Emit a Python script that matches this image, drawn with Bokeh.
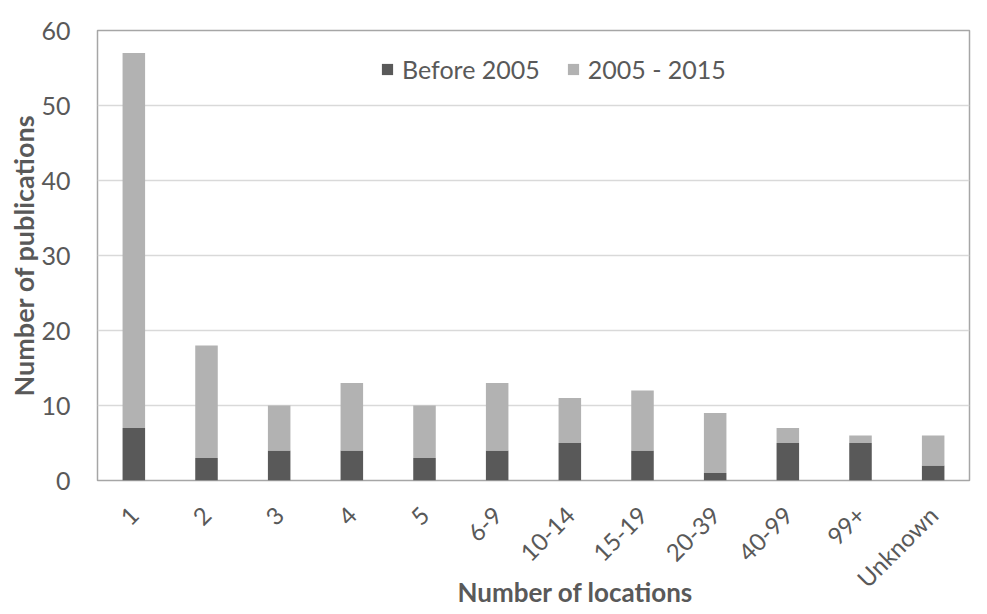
from bokeh.plotting import figure
from bokeh.models import Range1d, FactorRange, Legend, LegendItem, Title
from bokeh.embed import file_html
from bokeh.resources import INLINE
import math

categories = ["1", "2", "3", "4", "5", "6-9", "10-14", "15-19", "20-39", "40-99", "99+", "Unknown"]
before_2005 = [7, 3, 4, 4, 3, 4, 5, 4, 1, 5, 5, 2]
y2005_2015 = [50, 15, 6, 9, 7, 9, 6, 8, 8, 2, 1, 4]
series_names = ["Before 2005", "2005 - 2015"]
y_ticks = [0, 10, 20, 30, 40, 50, 60]
x_title = "Number of locations"
y_title = "Number of publications"

FONT = "Lato"
TXT = "#595959"

p = figure(width=971, height=606, output_backend="svg", toolbar_location=None,
           x_range=FactorRange(*categories, range_padding=0), y_range=Range1d(0, 60),
           min_border_left=97, min_border_right=2, min_border_top=30, min_border_bottom=124)

data = dict(cat=categories, b=before_2005, a=y2005_2015)
r = p.vbar_stack(["b", "a"], x="cat", width=0.31, source=data,
                 color=["#595959", "#b2b2b2"], line_color=None)

p.outline_line_color = "#a6a6a6"
p.outline_line_width = 1.5
p.xgrid.grid_line_color = None
p.ygrid.grid_line_color = "#d9d9d9"
p.ygrid.grid_line_width = 1.5
p.yaxis.ticker = y_ticks

for ax in (p.xaxis[0], p.yaxis[0]):
    ax.axis_line_color = None
    ax.major_tick_line_color = None
    ax.minor_tick_line_color = None
    ax.major_tick_out = 0
    ax.major_tick_in = 0
    ax.minor_tick_out = 0
    ax.minor_tick_in = 0
    ax.major_label_text_font = FONT
    ax.major_label_text_color = TXT

p.yaxis.major_label_text_font_size = "25px"
p.xaxis.major_label_text_font_size = "24px"

p.yaxis.major_label_standoff = 27
p.yaxis.axis_label = y_title
p.yaxis.axis_label_text_font = FONT
p.yaxis.axis_label_text_font_size = "27px"
p.yaxis.axis_label_text_font_style = "bold"
p.yaxis.axis_label_text_color = TXT
p.yaxis.axis_label_standoff = -2

p.xaxis.major_label_orientation = math.pi / 4
p.xaxis.major_label_standoff = 30

p.add_layout(Title(text=x_title, align="left", offset=360, standoff=-62,
                   vertical_align="top",
                   text_font=FONT, text_font_size="26px", text_font_style="bold",
                   text_color=TXT), "below")

legend = Legend(items=[LegendItem(label=series_names[0], renderers=[r[0]]),
                       LegendItem(label=series_names[1], renderers=[r[1]])],
                orientation="horizontal", location=(283, 396),
                border_line_color=None, background_fill_alpha=0,
                label_text_font=FONT, label_text_font_size="25px", label_text_color=TXT,
                glyph_width=14, glyph_height=14, label_standoff=8, spacing=26,
                padding=0, margin=0)
p.add_layout(legend)

open("out.html", "w").write(file_html(p, INLINE))
